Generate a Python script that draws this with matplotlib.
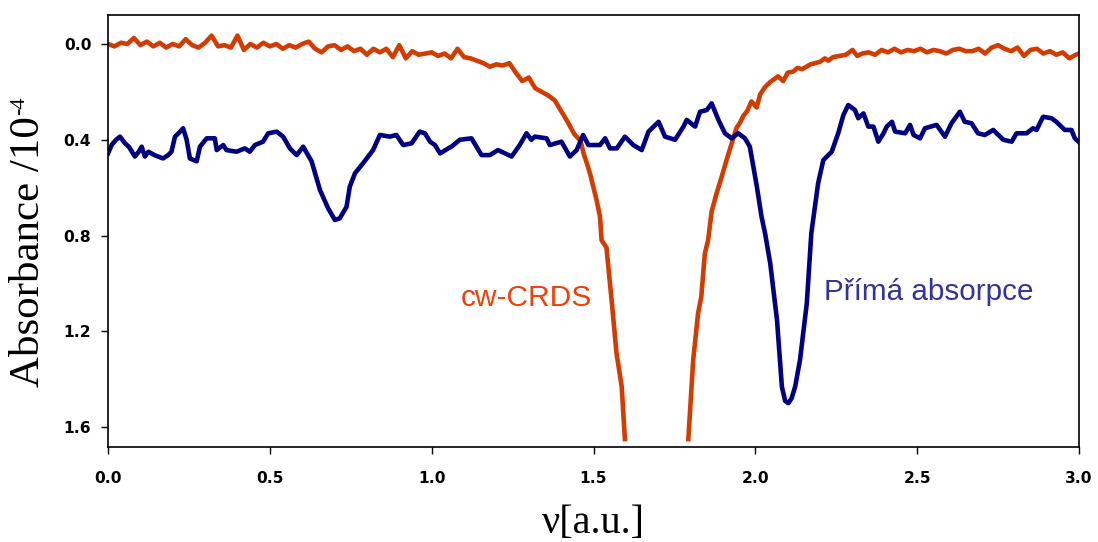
import matplotlib
matplotlib.use("Agg")
import matplotlib.pyplot as plt

# ---------------- data ----------------
crds_left_x = [0.00, 0.02, 0.04, 0.06, 0.08, 0.10, 0.12, 0.14, 0.16, 0.18,
               0.20, 0.22, 0.24, 0.26, 0.28, 0.30, 0.32, 0.34, 0.36, 0.38,
               0.40, 0.42, 0.44, 0.46, 0.48, 0.50, 0.52, 0.54, 0.56, 0.58,
               0.60, 0.62, 0.64, 0.66, 0.68, 0.70, 0.72, 0.74, 0.76, 0.78,
               0.80, 0.82, 0.84, 0.86, 0.88, 0.90, 0.92, 0.94, 0.96, 0.98,
               1.00, 1.02, 1.04, 1.06, 1.08, 1.10, 1.12, 1.14, 1.16, 1.18,
               1.20, 1.22, 1.24, 1.26, 1.28, 1.30, 1.32, 1.34, 1.36, 1.38,
               1.40, 1.42, 1.44, 1.46, 1.47, 1.48, 1.49, 1.50, 1.51, 1.52,
               1.525, 1.54, 1.556, 1.571, 1.587, 1.597]
crds_left_y = [0.00, 0.01, -0.005, 0.00, -0.025, 0.005, -0.01, 0.01, -0.005, 0.015,
               0.00, 0.01, -0.02, 0.005, 0.015, -0.005, -0.035, 0.01, 0.005, 0.015,
               -0.035, 0.025, 0.00, 0.015, -0.005, 0.01, 0.00, 0.02, 0.005, 0.015,
               0.00, -0.01, 0.02, 0.035, 0.01, 0.005, 0.025, 0.01, 0.03, 0.02,
               0.045, 0.02, 0.035, 0.02, 0.055, 0.005, 0.06, 0.03, 0.045, 0.04,
               0.035, 0.05, 0.04, 0.06, 0.02, 0.055, 0.06, 0.07, 0.08, 0.095,
               0.085, 0.09, 0.08, 0.12, 0.155, 0.14, 0.185, 0.20, 0.215, 0.235,
               0.28, 0.325, 0.375, 0.405, 0.46, 0.50, 0.545, 0.60, 0.655, 0.72,
               0.82, 0.85, 1.07, 1.29, 1.43, 1.65]

crds_right_x = [1.793, 1.808, 1.823, 1.833, 1.844, 1.854, 1.865, 1.88, 1.896, 1.911,
                1.927, 1.942, 1.952, 1.963, 1.975, 1.988, 2.004, 2.015, 2.03, 2.045,
                2.055, 2.07, 2.086, 2.10, 2.117, 2.13, 2.145, 2.158, 2.17, 2.185,
                2.199, 2.215, 2.225, 2.24, 2.26, 2.28, 2.30, 2.315, 2.33, 2.35,
                2.37, 2.39, 2.41, 2.43, 2.45, 2.47, 2.49, 2.51, 2.53, 2.55,
                2.57, 2.59, 2.61, 2.63, 2.65, 2.67, 2.69, 2.71, 2.73, 2.75,
                2.77, 2.79, 2.81, 2.83, 2.85, 2.87, 2.89, 2.91, 2.93, 2.95,
                2.97, 2.99, 3.00]
crds_right_y = [1.65, 1.32, 1.125, 1.055, 0.875, 0.82, 0.70, 0.625, 0.555, 0.485,
                0.415, 0.35, 0.33, 0.30, 0.28, 0.24, 0.265, 0.21, 0.18, 0.16,
                0.15, 0.135, 0.155, 0.12, 0.115, 0.10, 0.105, 0.095, 0.085, 0.08,
                0.075, 0.06, 0.07, 0.055, 0.05, 0.045, 0.025, 0.05, 0.04, 0.035,
                0.045, 0.025, 0.035, 0.02, 0.035, 0.025, 0.03, 0.02, 0.035, 0.025,
                0.03, 0.04, 0.025, 0.02, 0.03, 0.03, 0.02, 0.04, 0.015, 0.005,
                0.02, 0.03, 0.015, 0.05, 0.025, 0.02, 0.04, 0.03, 0.045, 0.035,
                0.06, 0.045, 0.04]

direct_x = [0.000, 0.012, 0.025, 0.037, 0.052, 0.065, 0.083, 0.095, 0.104, 0.114,
            0.125, 0.145, 0.170, 0.185, 0.196, 0.207, 0.220, 0.232, 0.243, 0.253,
            0.274, 0.284, 0.305, 0.330, 0.336, 0.356, 0.366, 0.397, 0.423, 0.438,
            0.454, 0.479, 0.495, 0.521, 0.541, 0.562, 0.583, 0.603, 0.629, 0.655,
            0.680, 0.701, 0.716, 0.737, 0.747, 0.763, 0.788, 0.819, 0.840, 0.871,
            0.891, 0.912, 0.938, 0.963, 0.979, 0.995, 1.010, 1.026, 1.051, 1.061,
            1.087, 1.123, 1.154, 1.180, 1.205, 1.247, 1.272, 1.293, 1.308, 1.319,
            1.355, 1.365, 1.401, 1.427, 1.448, 1.468, 1.484, 1.520, 1.536, 1.551,
            1.572, 1.597, 1.623, 1.649, 1.670, 1.701, 1.721, 1.752, 1.778, 1.788,
            1.814, 1.829, 1.850, 1.865, 1.886, 1.906, 1.927, 1.947, 1.968, 1.983,
            2.004, 2.019, 2.030, 2.046, 2.067, 2.082, 2.092, 2.102, 2.112, 2.123,
            2.138, 2.159, 2.173, 2.194, 2.210, 2.236, 2.256, 2.272, 2.287, 2.308,
            2.318, 2.334, 2.349, 2.365, 2.380, 2.396, 2.406, 2.422, 2.432, 2.463,
            2.478, 2.489, 2.509, 2.524, 2.560, 2.586, 2.606, 2.632, 2.647, 2.668,
            2.688, 2.709, 2.735, 2.766, 2.792, 2.807, 2.838, 2.858, 2.869, 2.889,
            2.915, 2.930, 2.956, 2.977, 2.987, 3.000]
direct_y = [0.457, 0.420, 0.400, 0.387, 0.414, 0.430, 0.470, 0.450, 0.429, 0.470,
            0.450, 0.465, 0.478, 0.465, 0.450, 0.387, 0.370, 0.352, 0.400, 0.478,
            0.490, 0.429, 0.394, 0.394, 0.443, 0.422, 0.443, 0.450, 0.436, 0.450,
            0.422, 0.408, 0.373, 0.366, 0.387, 0.436, 0.464, 0.429, 0.490, 0.610,
            0.686, 0.735, 0.728, 0.680, 0.596, 0.540, 0.498, 0.443, 0.380, 0.387,
            0.380, 0.422, 0.415, 0.366, 0.373, 0.408, 0.422, 0.457, 0.436, 0.429,
            0.400, 0.394, 0.464, 0.464, 0.443, 0.470, 0.422, 0.373, 0.400, 0.387,
            0.394, 0.422, 0.408, 0.470, 0.443, 0.380, 0.422, 0.422, 0.394, 0.436,
            0.436, 0.387, 0.422, 0.443, 0.366, 0.325, 0.387, 0.400, 0.345, 0.317,
            0.345, 0.283, 0.276, 0.248, 0.317, 0.373, 0.394, 0.373, 0.394, 0.429,
            0.590, 0.720, 0.790, 0.916, 1.153, 1.431, 1.490, 1.500, 1.480, 1.431,
            1.320, 1.083, 0.790, 0.582, 0.485, 0.450, 0.373, 0.297, 0.255, 0.276,
            0.310, 0.290, 0.345, 0.345, 0.408, 0.373, 0.345, 0.325, 0.366, 0.373,
            0.338, 0.380, 0.394, 0.352, 0.338, 0.387, 0.331, 0.283, 0.325, 0.331,
            0.373, 0.380, 0.359, 0.400, 0.408, 0.373, 0.373, 0.352, 0.359, 0.304,
            0.310, 0.325, 0.359, 0.359, 0.394, 0.410]

x_ticks = [0.0, 0.5, 1.0, 1.5, 2.0, 2.5, 3.0]
y_ticks = [0.0, 0.4, 0.8, 1.2, 1.6]

# ---------------- figure ----------------
W, H = 1098, 542
fig = plt.figure(figsize=(W / 100, H / 100), dpi=100)
ax = fig.add_axes([108/W, 1 - 447/H, (1079 - 108)/W, (447 - 15)/H])

crds_color = '#D23C00'
direct_color = '#000080'

ax.plot(crds_left_x, crds_left_y, color=crds_color, lw=3.3, solid_joinstyle='round')
ax.plot(crds_right_x, crds_right_y, color=crds_color, lw=3.3, solid_joinstyle='round')
ax.plot(direct_x, direct_y, color=direct_color, lw=3.3, solid_joinstyle='round')

ax.set_xlim(0, 3)
ax.set_ylim(1.683, -0.121)

ax.set_xticks(x_ticks)
ax.set_xticklabels([f"{v:.1f}" for v in x_ticks])
ax.set_yticks(y_ticks)
ax.set_yticklabels([f"{v:.1f}" for v in y_ticks])

for lab in ax.get_xticklabels() + ax.get_yticklabels():
    lab.set_fontfamily('DejaVu Sans')
    lab.set_fontweight('bold')
    lab.set_fontsize(11.2)

ax.tick_params(axis='both', direction='out', length=5, width=1, color='black')
ax.tick_params(axis='x', pad=12)
ax.tick_params(axis='y', pad=7)
for sp in ax.spines.values():
    sp.set_linewidth(1.2)
    sp.set_color('black')

# y label: "Absorbance /10" with a small "-4" superscript
ylab = fig.text(28.5/W, 1 - 387/H, 'Absorbance /10', rotation=90,
                fontfamily='Liberation Serif', fontsize=31, ha='center', va='bottom')
ax.set_xlabel('ν[a.u.]', fontfamily='Liberation Serif', fontsize=29, labelpad=14)

fig.canvas.draw()
r = fig.canvas.get_renderer()
bb = ylab.get_window_extent(renderer=r)
inv = fig.transFigure.inverted()
x0, y1 = inv.transform((bb.x0 + 1, bb.y1 + 1))
fig.text(x0, y1, '-4', rotation=90, fontfamily='Liberation Serif', fontsize=16,
         ha='left', va='bottom')

ax.text(1.294, 1.06, 'cw-CRDS', color='#F0400A', fontfamily='Liberation Sans',
        fontsize=21.5, ha='center', va='center')
ax.text(2.536, 1.035, 'Přímá absorpce', color='#333399', fontfamily='Liberation Sans',
        fontsize=21.3, ha='center', va='center')

fig.savefig('out.png', dpi=100)
